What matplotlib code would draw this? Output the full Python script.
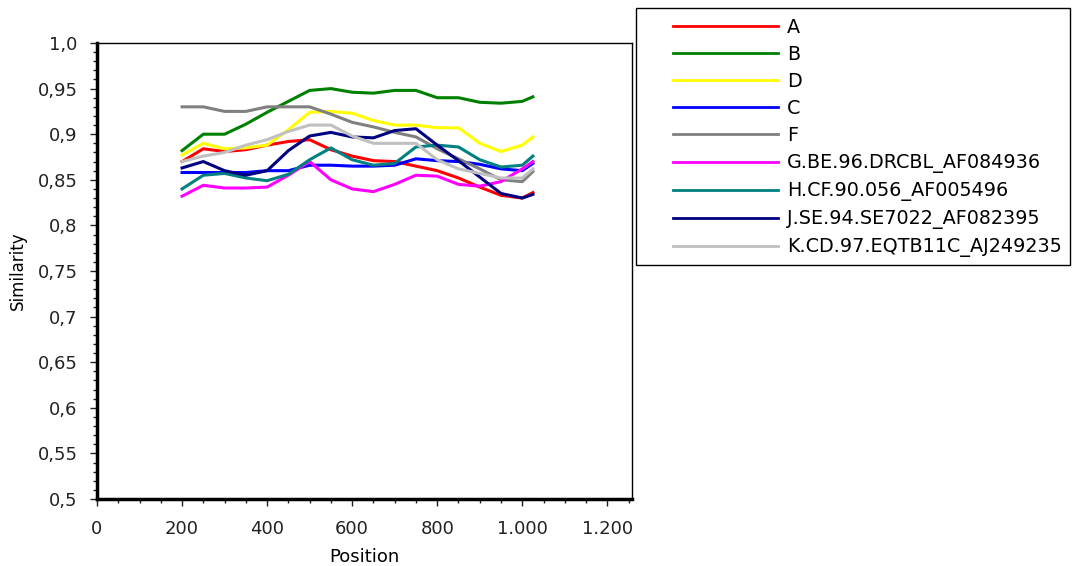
import matplotlib
matplotlib.use("Agg")
import matplotlib.pyplot as plt
from matplotlib.patches import Rectangle
from matplotlib.ticker import MultipleLocator

# sliding-window positions
position = [200, 250, 300, 350, 400, 450, 500, 550, 600, 650, 700, 750, 800, 850, 900, 950, 1000, 1025]

sim_a = [0.870, 0.884, 0.881, 0.883, 0.888, 0.892, 0.894, 0.883, 0.876, 0.871, 0.870, 0.865, 0.860, 0.852, 0.842, 0.833, 0.830, 0.836]
sim_b = [0.882, 0.900, 0.900, 0.911, 0.924, 0.936, 0.948, 0.950, 0.946, 0.945, 0.948, 0.948, 0.940, 0.940, 0.935, 0.934, 0.936, 0.941]
sim_d = [0.877, 0.890, 0.884, 0.885, 0.888, 0.905, 0.924, 0.925, 0.923, 0.915, 0.910, 0.910, 0.907, 0.907, 0.890, 0.881, 0.888, 0.897]
sim_c = [0.858, 0.858, 0.858, 0.858, 0.860, 0.860, 0.866, 0.866, 0.865, 0.865, 0.866, 0.873, 0.871, 0.870, 0.867, 0.862, 0.860, 0.868]
sim_f = [0.930, 0.930, 0.925, 0.925, 0.930, 0.930, 0.930, 0.922, 0.913, 0.908, 0.902, 0.897, 0.884, 0.873, 0.862, 0.850, 0.848, 0.859]
sim_g = [0.832, 0.844, 0.841, 0.841, 0.842, 0.855, 0.870, 0.850, 0.840, 0.837, 0.845, 0.855, 0.854, 0.845, 0.843, 0.848, 0.862, 0.870]
sim_h = [0.840, 0.855, 0.857, 0.852, 0.849, 0.856, 0.872, 0.885, 0.872, 0.866, 0.868, 0.886, 0.888, 0.886, 0.872, 0.864, 0.866, 0.876]
sim_j = [0.863, 0.870, 0.860, 0.855, 0.860, 0.882, 0.898, 0.902, 0.897, 0.896, 0.904, 0.906, 0.888, 0.871, 0.853, 0.835, 0.830, 0.834]
sim_k = [0.870, 0.876, 0.880, 0.888, 0.894, 0.903, 0.910, 0.910, 0.898, 0.890, 0.890, 0.890, 0.872, 0.862, 0.857, 0.852, 0.852, 0.862]

labels = ["A", "B", "D", "C", "F", "G.BE.96.DRCBL_AF084936", "H.CF.90.056_AF005496",
          "J.SE.94.SE7022_AF082395", "K.CD.97.EQTB11C_AJ249235"]
series = [sim_a, sim_b, sim_d, sim_c, sim_f, sim_g, sim_h, sim_j, sim_k]
colors = ["#ff0000", "#008000", "#ffff00", "#0000ff", "#808080", "#ff00ff", "#008080", "#000080", "#c0c0c0"]

x_ticks = [0, 200, 400, 600, 800, 1000, 1200]
x_tick_labels = ["0", "200", "400", "600", "800", "1.000", "1.200"]
y_ticks = [0.5, 0.55, 0.6, 0.65, 0.7, 0.75, 0.8, 0.85, 0.9, 0.95, 1.0]
y_tick_labels = ["0,5", "0,55", "0,6", "0,65", "0,7", "0,75", "0,8", "0,85", "0,9", "0,95", "1,0"]

W, H = 1072, 566
plt.rcParams["font.family"] = "DejaVu Sans"
fig = plt.figure(figsize=(W / 100, H / 100), dpi=100)
ax = fig.add_axes([97 / W, 1 - 499 / H, 535 / W, 456 / H])

lines = []
for vals, lab, col in zip(series, labels, colors):
    ln, = ax.plot(position, vals, color=col, linewidth=2.2, label=lab)
    lines.append(ln)

ax.set_xlim(0, 1258)
ax.set_ylim(0.5, 1.0)
ax.set_xticks(x_ticks)
ax.set_xticklabels(x_tick_labels)
ax.set_yticks(y_ticks)
ax.set_yticklabels(y_tick_labels)
ax.xaxis.set_minor_locator(MultipleLocator(50))
ax.yaxis.set_minor_locator(MultipleLocator(0.01))
ax.tick_params(which="major", length=5, width=1, labelsize=13, colors="#222222")
ax.tick_params(which="minor", length=3, width=1, colors="#222222")
ax.tick_params(axis="x", which="major", pad=10)
ax.tick_params(axis="y", which="major", pad=9)

for side in ["left", "bottom"]:
    ax.spines[side].set_linewidth(2.5)
for side in ["top", "right"]:
    ax.spines[side].set_linewidth(1)

ax.set_xlabel("Position", fontsize=13, labelpad=7)
ax.set_ylabel("Similarity", fontsize=12, labelpad=8)

# legend frame drawn separately, legend entries placed inside it
fig.patches.append(Rectangle((636 / W, 1 - 265 / H), 434 / W, 257 / H, transform=fig.transFigure,
                             facecolor="white", edgecolor="black", linewidth=1, zorder=0))
leg = fig.legend(handles=lines, loc="upper left", bbox_to_anchor=(673 / W, 1 - 18 / H),
                 fontsize=13.8, handlelength=5.5, handletextpad=0.45, labelspacing=0.42,
                 borderpad=0, borderaxespad=0, frameon=False)
for lh in leg.get_lines():
    lh.set_linewidth(2)

fig.savefig("out.png", dpi=100)
plt.close(fig)
